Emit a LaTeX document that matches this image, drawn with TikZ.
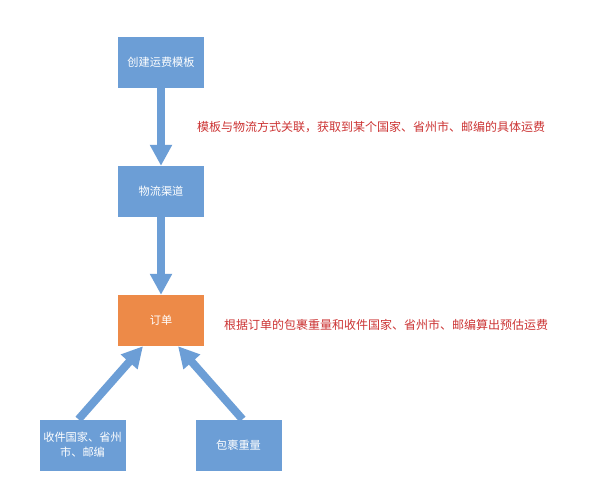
\documentclass[tikz,border=0pt]{standalone}
\usepackage{fontspec}
\setmainfont{Noto Sans CJK SC}
\usepackage{tikz}
\usetikzlibrary{arrows.meta}
\definecolor{boxblue}{RGB}{108,158,214}
\definecolor{boxorange}{RGB}{237,138,72}
\definecolor{notered}{RGB}{204,52,52}
\tikzset{
node distance=129bp, % spacing between the boxes of the main column
box/.style={fill=boxblue, minimum width=86bp, minimum height=51bp, inner sep=2bp,
  text=white, align=center, font=\fontsize{11.2bp}{15bp}\selectfont}, % every box
flow/.style={draw=boxblue, line width=8bp, -{Triangle[width=21bp,length=21bp]}}, % thick block arrows
note/.style={text=notered, anchor=west, inner sep=0pt, font=\fontsize{12bp}{15bp}\selectfont}, % red remarks
}

\begin{document}
\begin{tikzpicture}[x=1bp, y=-1bp]
		\useasboundingbox[fill=white] (0,0) rectangle (595,481);
		\node[box] (tpl) at (161,62.5) {创建运费模板};
		\node[box, below of=tpl] (chan) {物流渠道};
		\node[box, below of=chan, fill=boxorange] (order) {订单};
		\node[box] (addr) at (82.5,445) {收件国家、省州\\市、邮编};
		\node[box] (weight) at (238.5,445) {包裹重量};
		\node[note] (note1) at (197,127) {模板与物流方式关联，获取到某个国家、省州市、邮编的具体运费};
		\node[note] (note2) at (224,325) {根据订单的包裹重量和收件国家、省州市、邮编算出预估运费};
		\draw[flow] (tpl) -- (chan);
		\draw[flow] (chan) -- (order);
		\draw[flow] ([xshift=-4bp]addr.north) -- ([xshift=-18bp]order.south);
		\draw[flow] ([xshift=4bp]weight.north) -- ([xshift=17bp]order.south);
	\end{tikzpicture}
\end{document}
